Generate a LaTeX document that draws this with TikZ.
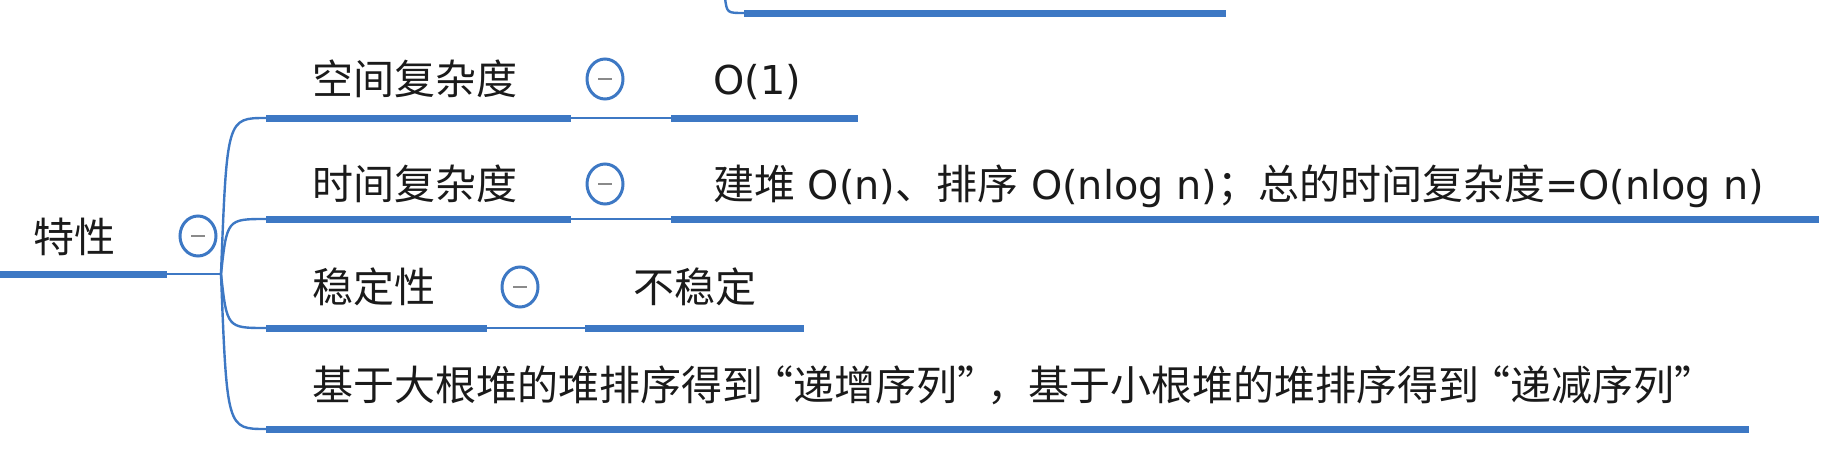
\documentclass[tikz,border=0pt]{standalone}
\usepackage{fontspec}
\usetikzlibrary{shapes.geometric}
\newfontfamily\cjk{Noto Sans CJK SC}
\newfontfamily\lat{DejaVu Sans}[Scale=0.97]
\newcommand\oq{\makebox[0.74em][r]{“}}
\newcommand\cq{\makebox[0.74em][l]{”}}
\definecolor{mmblue}{HTML}{3D78C4}
\definecolor{txt}{HTML}{1A1A1A}
\definecolor{minusgray}{HTML}{8A8A8A}
\begin{document}
\begin{tikzpicture}[x=1pt,y=-1pt,
  bar/.style={line width=7pt, draw=mmblue},
  link/.style={line width=2.4pt, draw=mmblue},
  lbl/.style={anchor=base west, inner sep=0pt, text=txt, font=\cjk\fontsize{41}{48}\selectfont},
  fold/.style={ellipse, draw=mmblue, line width=3pt, minimum width=36pt, minimum height=40pt, inner sep=0pt, fill=white,
    path picture={\draw[minusgray, line width=2.2pt] ([xshift=-7pt]path picture bounding box.center) -- ([xshift=7pt]path picture bounding box.center);}}]
\useasboundingbox (0,0) rectangle (1828,464);
% top partial branch
\coordinate (t0) at (725,-2);
\coordinate (t1) at (744,13);
\coordinate (t2) at (1226,13);
\draw[link] (t0) .. controls (727,13) .. (t1);
\draw[bar] (t1) -- (t2);
% root: 特性
\node[lbl] (root) at (33,252) {特性};
\node[fold] (rootfold) at (198,236) {};
\coordinate (r0) at (0,274);
\coordinate (r1) at (167,274);
\coordinate (J) at (221,274);
\draw[bar] (r0) -- (r1);
\draw[link] (r1) -- (J);
% row 1
\node[lbl] (a) at (312,94) {空间复杂度};
\node[fold] (afold) at (605,79) {};
\node[lbl] (av) at (713,94) {\lat O(1)};
\coordinate (a0) at (266,118);
\coordinate (a1) at (571,118);
\coordinate (a2) at (671,118);
\coordinate (a3) at (858,118);
\draw[bar] (a0) -- (a1);
\draw[link] (a1) -- (a2);
\draw[bar] (a2) -- (a3);
% row 2
\node[lbl] (b) at (312,199) {时间复杂度};
\node[fold] (bfold) at (605,184) {};
\node[lbl] (bv) at (713,199) {建堆{\lat{} O(n)}、排序{\lat{} O(nlog n)}；总的时间复杂度{\lat =O(nlog n)}};
\coordinate (b0) at (266,219);
\coordinate (b1) at (571,219);
\coordinate (b2) at (671,219);
\coordinate (b3) at (1819,219);
\draw[bar] (b0) -- (b1);
\draw[link] (b1) -- (b2);
\draw[bar] (b2) -- (b3);
% row 3
\node[lbl] (c) at (312,302) {稳定性};
\node[fold] (cfold) at (520,287) {};
\node[lbl] (cv) at (633,302) {不稳定};
\coordinate (c0) at (266,328);
\coordinate (c1) at (487,328);
\coordinate (c2) at (585,328);
\coordinate (c3) at (804,328);
\draw[bar] (c0) -- (c1);
\draw[link] (c1) -- (c2);
\draw[bar] (c2) -- (c3);
% row 4
\node[lbl] (d) at (312,400) {基于大根堆的堆排序得到\oq 递增序列\cq ，基于小根堆的堆排序得到\oq 递减序列\cq};
\coordinate (d0) at (266,429);
\coordinate (d1) at (1749,429);
\draw[bar] (d0) -- (d1);
% branch curves
\draw[link] (J) .. controls (227,118) .. (a0);
\draw[link] (J) .. controls (227,219) .. (b0);
\draw[link] (J) .. controls (227,328) .. (c0);
\draw[link] (J) .. controls (227,429) .. (d0);
\end{tikzpicture}
\end{document}
